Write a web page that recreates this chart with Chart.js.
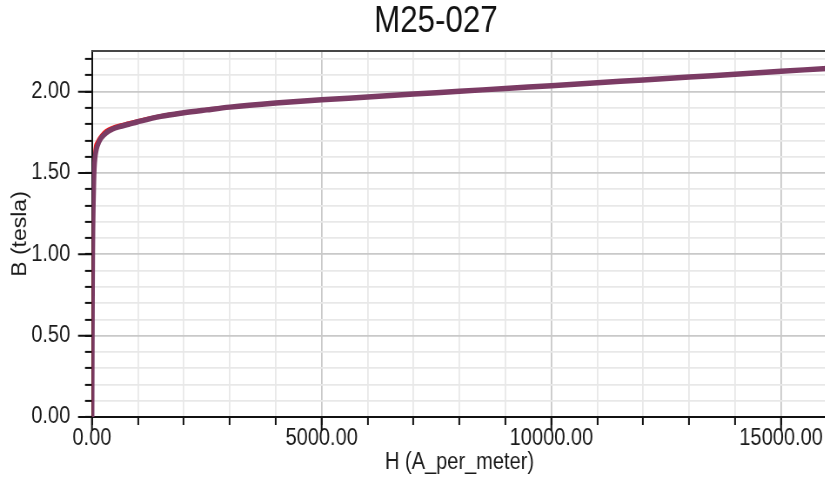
<!DOCTYPE html>
<html>
<head>
<meta charset="utf-8">
<script src="https://cdn.jsdelivr.net/npm/chart.js@4.4.1/dist/chart.umd.min.js"></script>
<style>
  html, body { margin: 0; padding: 0; background: #fff; width: 825px; height: 479px; overflow: hidden; }
  #wrap { position: absolute; left: 0; top: 0; transform: scaleX(0.87); transform-origin: 0 0; }
  canvas { display: block; }
</style>
</head>
<body>
<div id="wrap"><canvas id="c" width="1002" height="479"></canvas></div>
<script>
// ---- data ----
const chartTitle = 'M25-027';
const xAxisTitle = 'H (A_per_meter)';
const yAxisTitle = 'B (tesla)';

// magnetising field H (A/m)
const hValues = [0, 5, 10, 15, 20, 30, 40, 50, 70, 100, 150, 200, 300, 450, 600, 800, 1000,
  1500, 2000, 2500, 3000, 4000, 5000, 6000, 7000, 8000, 9000, 10000, 11000, 12000,
  13000, 14000, 15000, 16000];
// flux density B (T) - main (purple) curve
const bMain = [0, 0.40, 0.75, 1.00, 1.15, 1.32, 1.45, 1.53, 1.60, 1.65, 1.69, 1.715, 1.745,
  1.77, 1.785, 1.80, 1.815, 1.848, 1.87, 1.888, 1.905, 1.93, 1.95, 1.967, 1.985, 2.002,
  2.02, 2.037, 2.055, 2.072, 2.09, 2.107, 2.125, 2.143];
// flux density B (T) - underlying (red) curve
const bRed = [0, 0.42, 0.78, 1.04, 1.21, 1.40, 1.54, 1.62, 1.67, 1.69, 1.715, 1.735, 1.762,
  1.784, 1.797, 1.81, 1.824, 1.855, 1.875, 1.893, 1.909, 1.932, 1.95, 1.967, 1.985, 2.002,
  2.02, 2.037, 2.055, 2.072, 2.09, 2.107, 2.125, 2.143];

const xMin = 0, xMax = 16000, xStep = 1000, xMajor = 5000;
const yMin = 0, yMax = 2.25, yStep = 0.1, yMajor = 0.5;

const FONT = "'Liberation Sans', Arial, Helvetica, sans-serif";
const pts = (ys) => hValues.map((h, i) => ({ x: h, y: ys[i] }));
const isMajor = (v, m) => Math.abs(v / m - Math.round(v / m)) < 1e-6;

const extras = {
  id: 'extras',
  afterDraw(chart) {
    const { ctx, chartArea: a, scales: { x, y } } = chart;
    ctx.save();
    // top / right frame line
    ctx.strokeStyle = '#474747';
    ctx.lineWidth = 2.2;
    ctx.beginPath();
    ctx.moveTo(a.left, a.top);
    ctx.lineTo(a.right, a.top);
    ctx.lineTo(a.right, a.bottom);
    ctx.stroke();
    // longer major tick marks
    ctx.strokeStyle = '#111';
    ctx.lineWidth = 2;
    ctx.beginPath();
    x.ticks.forEach(t => {
      if (isMajor(t.value, xMajor)) {
        const p = x.getPixelForValue(t.value);
        ctx.moveTo(p, a.bottom); ctx.lineTo(p, a.bottom + 14);
      }
    });
    y.ticks.forEach(t => {
      if (isMajor(t.value, yMajor)) {
        const p = y.getPixelForValue(t.value);
        ctx.moveTo(a.left, p); ctx.lineTo(a.left - 16, p);
      }
    });
    ctx.stroke();
    ctx.restore();
  }
};

new Chart(document.getElementById('c'), {
  type: 'line',
  data: {
    datasets: [
      {
        label: 'B-H',
        data: pts(bMain),
        borderColor: '#7b3b64',
        borderWidth: 5.5,
        pointRadius: 0,
        cubicInterpolationMode: 'monotone',
        fill: false,
        order: 0
      },
      {
        label: 'B-H (red)',
        data: pts(bRed),
        borderColor: '#ff1010',
        borderWidth: 2.5,
        pointRadius: 0,
        cubicInterpolationMode: 'monotone',
        fill: false,
        order: 1
      }
    ]
  },
  plugins: [extras],
  options: {
    responsive: false,
    devicePixelRatio: 1,
    animation: false,
    layout: { padding: 0 },
    plugins: {
      legend: { display: false },
      tooltip: { enabled: false },
      title: {
        display: true,
        text: chartTitle,
        color: '#111',
        font: { family: FONT, size: 36, weight: 'normal' },
        padding: { top: 0, bottom: 7.8 }
      }
    },
    scales: {
      x: {
        type: 'linear',
        min: xMin, max: xMax,
        afterFit(s) { s.height = 62; },
        ticks: {
          stepSize: xStep,
          autoSkip: false,
          maxRotation: 0,
          padding: 0,
          color: '#1a1a1a',
          font: { family: FONT, size: 23 },
          callback: (v) => isMajor(v, xMajor) ? v.toFixed(2) : ''
        },
        grid: {
          color: (c) => isMajor(c.tick.value, xMajor) ? '#c9c9c9' : '#e8e8e8',
          lineWidth: 1.8,
          tickColor: '#111',
          tickWidth: 2,
          tickLength: 8
        },
        border: { color: '#111', width: 2 },
        title: {
          display: true,
          text: xAxisTitle,
          color: '#1a1a1a',
          font: { family: FONT, size: 23 },
          padding: { top: 0, bottom: 3 }
        }
      },
      y: {
        type: 'linear',
        min: yMin, max: yMax,
        afterFit(s) { s.width = 105.7; },
        ticks: {
          stepSize: yStep,
          autoSkip: false,
          includeBounds: false,
          padding: 17,
          color: '#1a1a1a',
          font: { family: FONT, size: 23 },
          callback: (v) => isMajor(v, yMajor) ? v.toFixed(2) : ''
        },
        grid: {
          color: (c) => isMajor(c.tick.value, yMajor) ? '#c9c9c9' : '#e8e8e8',
          lineWidth: 1.8,
          tickColor: '#111',
          tickWidth: 2,
          tickLength: 8
        },
        border: { color: '#111', width: 2 },
        title: {
          display: true,
          text: yAxisTitle,
          color: '#1a1a1a',
          font: { family: FONT, size: 23 },
          padding: { top: 10, bottom: 0 }
        }
      },
      // empty right-hand spacer so the plot ends where the reference's does
      spacer: {
        type: 'linear',
        position: 'right',
        display: true,
        afterFit(s) { s.width = 51.4; },
        ticks: { display: false },
        grid: { display: false, drawOnChartArea: false, drawTicks: false },
        border: { display: false },
        title: { display: false }
      }
    }
  }
});
</script>
</body>
</html>
